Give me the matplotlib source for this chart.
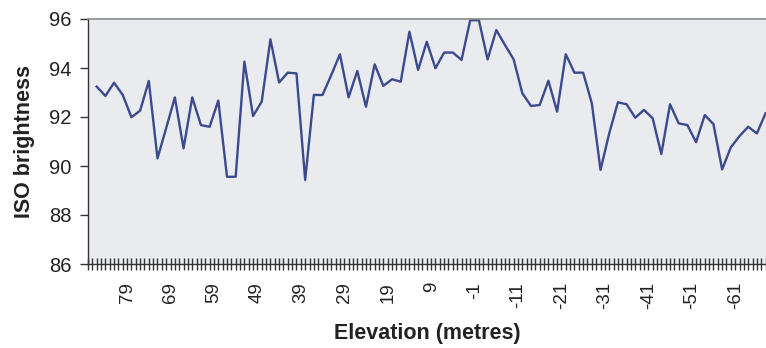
import matplotlib
matplotlib.use("Agg")
import matplotlib.pyplot as plt
from matplotlib.ticker import MultipleLocator, FixedLocator

plt.rcParams['font.family'] = ['Liberation Sans', 'DejaVu Sans']

elevation = list(range(86, -70, -2))
brightness = [
    93.24, 92.86, 93.40, 92.90, 91.99, 92.26, 93.47, 90.31, 91.55, 92.80,
    90.72, 92.80, 91.67, 91.60, 92.67, 89.56, 89.56, 94.26, 92.04, 92.63,
    95.17, 93.41, 93.81, 93.78, 89.43, 92.90, 92.90, 93.71, 94.56, 92.80,
    93.88, 92.42, 94.15, 93.27, 93.54, 93.44, 95.48, 93.92, 95.07, 93.99,
    94.63, 94.63, 94.33, 95.95, 95.95, 94.35, 95.55, 94.94, 94.35, 92.97,
    92.45, 92.49, 93.48, 92.22, 94.56, 93.81, 93.81, 92.56, 89.84, 91.33,
    92.60, 92.52, 91.97, 92.29, 91.95, 90.49, 92.52, 91.74, 91.67, 90.97,
    92.08, 91.71, 89.86, 90.76, 91.22, 91.60, 91.33, 92.15,
]
x_tick_labels = [79, 69, 59, 49, 39, 29, 19, 9, -1, -11, -21, -31, -41, -51, -61]
y_ticks = [86, 88, 90, 92, 94, 96]

W, H = 766, 348
fig = plt.figure(figsize=(W / 100, H / 100), dpi=100)
fig.patch.set_facecolor('white')
ax = fig.add_axes([88 / W, 1 - 264 / H, (W - 88) / W, (264 - 19) / H])
ax.set_facecolor('#e9ebef')

ax.plot(elevation, brightness, color='#3b4a8c', linewidth=1.7, clip_on=True)

ax.set_xlim(88, -68.1)
ax.set_ylim(86, 96)

ax.set_yticks(y_ticks)
ax.set_yticklabels([str(v) for v in y_ticks])
ax.xaxis.set_major_locator(FixedLocator(x_tick_labels))
ax.set_xticklabels([str(v) for v in x_tick_labels], rotation=90)
ax.xaxis.set_minor_locator(MultipleLocator(1))

ax.tick_params(axis='y', direction='out', length=6, width=1.0, color='#333333',
               labelsize=14.5, pad=6, labelcolor='#222222')
ax.tick_params(axis='x', which='both', direction='inout', length=8, width=1.0,
               color='#333333', labelsize=13.5, pad=9, labelcolor='#222222')

for side in ['left', 'bottom']:
    ax.spines[side].set_color('#333333')
    ax.spines[side].set_linewidth(1.0)
ax.spines['top'].set_color('#8a8a8a')
ax.spines['top'].set_linewidth(1.2)
ax.spines['right'].set_visible(False)

ax.set_ylabel('ISO brightness', fontsize=15.5, fontweight='bold', color='#222222', labelpad=10)
ax.set_xlabel('Elevation (metres)', fontsize=15.5, fontweight='bold', color='#222222', labelpad=10)

fig.savefig('out.png', dpi=100, facecolor='white')
